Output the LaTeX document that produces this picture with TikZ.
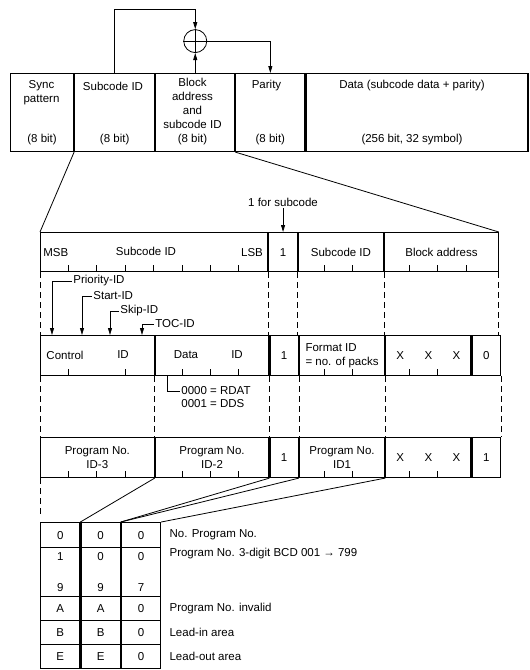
\documentclass[tikz,border=0pt]{standalone}
\usepackage{fontspec}
\setmainfont{Liberation Sans}
\usetikzlibrary{arrows.meta, positioning, calc}

\begin{document}
\begin{tikzpicture}[x=1pt, y=-1pt, line width=0.8pt,
  every node/.style={font=\fontsize{11.5}{14}\selectfont, inner sep=1pt},
  cell/.style 2 args={draw, line width=1.1pt, anchor=north west, inner sep=0pt,
    minimum width=#1, minimum height=#2},
  arr/.style={-{Triangle[length=7pt, width=4pt]}},
  guide/.style={line width=0.7pt, dash pattern=on 6pt off 4pt},
  tick/.style={line width=0.7pt}]
  \useasboundingbox (0,0) rectangle (530,670);

  % block header
  \node[cell={63pt}{78pt}] (sync) at (10,73) {};
  \node[cell={80pt}{78pt}] (sid) at (sync.north east) {};
  \node[cell={79pt}{78pt}] (baddr) at (sid.north east) {};
  \node[cell={69pt}{78pt}] (par) at (baddr.north east) {};
  \node[cell={222pt}{78pt}] (data) at (par.north east) {};
  \node[align=center] (synct) at (41.5,93) {Sync\\pattern};
  \node (sidt) at (113,86) {Subcode ID};
  \node[align=center] (baddrt) at (192.5,112) {Block\\address\\and\\subcode ID\\(8 bit)};
  \node (part) at (266.5,86) {Parity};
  \node (datat) at (412,86) {Data (subcode data + parity)};
  \foreach \n in {sync, sid, par}
    \node (\n bits) at (\n.center |- 0,140) {(8 bit)};
  \node (databits) at (412,140) {(256 bit, 32 symbol)};

  % parity loop
  \node[circle, draw, minimum size=23pt, inner sep=0pt, above=20pt of baddr] (xor) {};
  \draw (xor.north) -- (xor.south) (xor.west) -- (xor.east);
  \draw[arr] (sid.north) -- ++(0,-64) -| (xor.north);
  \draw[arr] (baddr.north) -- (xor.south);
  \draw[arr] (xor.east) -| (par.north);

  % subcode ID word
  \node[cell={227.2pt}{39pt}] (sub2) at (40,232) {};
  \node[cell={28.4pt}{39pt}] (one2) at (sub2.north east) {1};
  \node[cell={85.2pt}{39pt}] (sid2) at (one2.north east) {Subcode ID};
  \node[cell={113.6pt}{39pt}] (blk2) at (sid2.north east) {Block address};
  \node[anchor=west] (msb) at ([xshift=2pt]sub2.west) {MSB};
  \node (subname) at (146,251) {Subcode ID};
  \node[anchor=east] (lsb) at ([xshift=-4pt]sub2.east) {LSB};
  \node[above=24pt of one2] (onefor) {1 for subcode};
  \draw[arr] (onefor.south) -- (one2.north);
  \draw (sid.south west) -- (sub2.north west);
  \draw (baddr.south east) -- (blk2.north east);
  \foreach \k in {1,...,7,10,11,13,14,15}
    \draw[tick] ({40+28.4*\k},271) -- ++(0,-6);

  % ID flags
  \node[anchor=west] (prio) at (72,281) {Priority-ID};
  \node[anchor=west] (start) at (92,296) {Start-ID};
  \node[anchor=west] (skip) at (119,311) {Skip-ID};
  \node[anchor=west] (toc) at (154,324) {TOC-ID};

  % pack header
  \node[cell={113.6pt}{40pt}] (ctl) at (40,335) {};
  \node[cell={113.6pt}{40pt}] (dat) at (ctl.north east) {};
  \node[cell={28.4pt}{40pt}] (one3) at (dat.north east) {1};
  \node[cell={85.2pt}{40pt}, align=left] (fmt) at (one3.north east) {Format ID\\= no. of packs};
  \node[cell={85.2pt}{40pt}] (xxx3) at (fmt.north east) {X\hspace{20.5pt}X\hspace{20.5pt}X};
  \node[cell={28.4pt}{40pt}] (zero3) at (xxx3.north east) {0};
  \node (ctlt) at (65,355) {Control};
  \node (ctlid) at (123,355) {ID};
  \node (datt) at (186,355) {Data};
  \node (datid) at (237,355) {ID};
  \foreach \k in {1,3,5,6,7,10,11,13,14}
    \draw[tick] ({40+28.4*\k},375) -- ++(0,-6);
  \draw[arr] (prio.west) -| ($(ctl.north west)+(12,0)$);
  \draw[arr] (start.west) -| ($(ctl.north west)+(42,0)$);
  \draw[arr] (skip.west) -| ($(ctl.north west)+(70,0)$);
  \draw[arr] (toc.west) -| ($(ctl.north west)+(102,0)$);
  \foreach \c in {sub2.south west, sub2.south east, one2.south east, sid2.south east, blk2.south east}
    \draw[guide] (\c) -- (\c |- ctl.north);

  \node[anchor=west] (rdat) at (180,391) {0000 = RDAT};
  \node[anchor=west] (dds) at (180,404) {0001 = DDS};
  \draw ($(dat.south west)+(13,0)$) |- (rdat.west);

  % program number pack
  \node[cell={113.6pt}{40pt}, align=center] (pn3) at (40,437) {Program No.\\ID-3};
  \node[cell={113.6pt}{40pt}, align=center] (pn2) at (pn3.north east) {Program No.\\ID-2};
  \node[cell={28.4pt}{40pt}] (one4) at (pn2.north east) {1};
  \node[cell={85.2pt}{40pt}, align=center] (pn1) at (one4.north east) {Program No.\\ID1};
  \node[cell={85.2pt}{40pt}] (xxx4) at (pn1.north east) {X\hspace{20.5pt}X\hspace{20.5pt}X};
  \node[cell={28.4pt}{40pt}] (last4) at (xxx4.north east) {1};
  \foreach \k in {1,2,3,5,6,7,10,11,13,14}
    \draw[tick] ({40+28.4*\k},477) -- ++(0,-6);
  \foreach \c in {ctl.south west, ctl.south east, dat.south east, one3.south east, fmt.south east, zero3.south east}
    \draw[guide] (\c) -- (\c |- pn3.north);
  \draw[guide] (pn3.south west) -- ++(0,38);

  % BCD table
  \foreach \r/\y/\h/\a/\b/\c in {1/522/25/0/0/0, 2/547/49/{1\\[17pt]9}/{0\\[17pt]9}/{0\\[17pt]7},
      3/596/24/A/A/0, 4/620/24/B/B/0, 5/644/24/E/E/0} {
    \node[cell={39.3pt}{\h pt}, align=center] (t\r-a) at (40,\y) {\a};
    \node[cell={39.3pt}{\h pt}, align=center] (t\r-b) at (t\r-a.north east) {\b};
    \node[cell={39.3pt}{\h pt}, align=center] (t\r-c) at (t\r-b.north east) {\c};
  }
  \node[anchor=west] (d1) at ([xshift=7pt]t1-c.east) {No. Program No.};
  \node[anchor=west] (d2) at ([shift={(7,7)}]t2-c.north east) {Program No. 3-digit BCD 001 → 799};
  \node[anchor=west] (d3) at ([xshift=7pt]t3-c.east) {Program No. invalid};
  \node[anchor=west] (d4) at ([xshift=7pt]t4-c.east) {Lead-in area};
  \node[anchor=west] (d5) at ([xshift=7pt]t5-c.east) {Lead-out area};
  \draw (pn3.south east) -- (t1-a.north east);
  \draw (pn2.south east) -- (t1-b.north east);
  \draw (one4.south east) -- (t1-b.north east);
  \draw (pn1.south east) -- (t1-c.north east);
\end{tikzpicture}
\end{document}
